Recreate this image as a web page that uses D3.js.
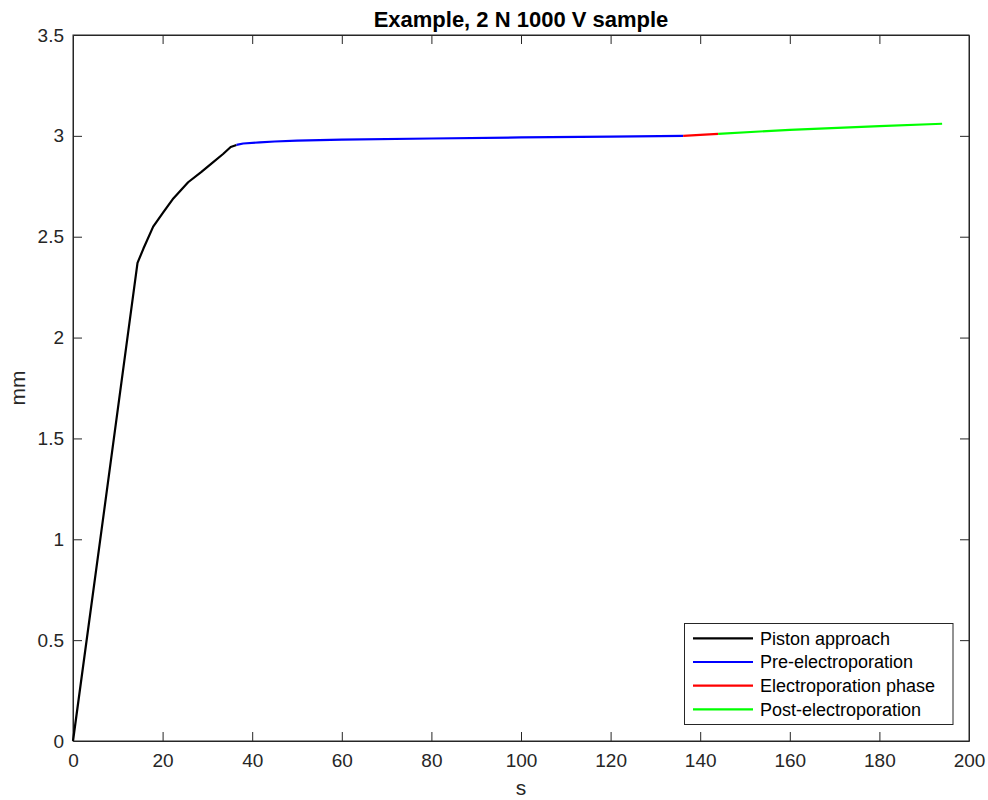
<!DOCTYPE html>
<html><head><meta charset="utf-8">
<script src="https://cdn.jsdelivr.net/npm/d3@7"></script>
<style>body{margin:0;background:#fff;} svg{display:block;}</style>
</head><body>
<script>
const approachT = [0, 7, 14.4, 15.7, 17.9, 20.1, 22.4, 25.7, 28.6, 31.3, 33.5, 35.2, 36.5];
const approachY = [0, 1.15, 2.37, 2.44, 2.55, 2.62, 2.69, 2.77, 2.82, 2.87, 2.91, 2.945, 2.955];
const preT = [36.5, 38, 41.7, 45, 50, 60, 80, 100, 120, 136.2];
const preY = [2.955, 2.962, 2.968, 2.972, 2.976, 2.981, 2.987, 2.992, 2.996, 3.0];
const electroT = [136.2, 140, 144];
const electroY = [3.0, 3.005, 3.01];
const postT = [144, 160, 180, 194];
const postY = [3.01, 3.03, 3.048, 3.06];
const seriesNames = ["Piston approach", "Pre-electroporation", "Electroporation phase", "Post-electroporation"];
const seriesColors = ["#000000", "#0000ff", "#ff0000", "#00ff00"];
const xTicks = [0,20,40,60,80,100,120,140,160,180,200];
const yTicks = [0,0.5,1,1.5,2,2.5,3,3.5];

const W = 988, H = 800;
const x = d3.scaleLinear().domain([0,200]).range([73, 969]);
const y = d3.scaleLinear().domain([0,3.5]).range([741, 35]);
const svg = d3.select("body").append("svg").attr("width", W).attr("height", H);
const font = "'Liberation Sans', Arial, Helvetica, sans-serif";
const axColor = "#262626";

svg.append("rect").attr("x", x(0)).attr("y", y(3.5)).attr("width", x(200)-x(0)).attr("height", y(0)-y(3.5))
  .attr("fill","#fff").attr("stroke", axColor).attr("stroke-width",1);

const tl = 9;
const gx = svg.append("g").attr("transform", `translate(0,${y(0)})`)
  .call(d3.axisBottom(x).tickValues(xTicks).tickSizeInner(-tl).tickSizeOuter(0).tickPadding(13).tickFormat(d3.format("d")));
const gxt = svg.append("g").attr("transform", `translate(0,${y(3.5)})`)
  .call(d3.axisTop(x).tickValues(xTicks).tickSizeInner(-tl).tickSizeOuter(0).tickFormat(""));
const gy = svg.append("g").attr("transform", `translate(${x(0)},0)`)
  .call(d3.axisLeft(y).tickValues(yTicks).tickSizeInner(-tl).tickSizeOuter(0).tickPadding(9).tickFormat(d => d3.format("")(d)));
const gyr = svg.append("g").attr("transform", `translate(${x(200)},0)`)
  .call(d3.axisRight(y).tickValues(yTicks).tickSizeInner(-tl).tickSizeOuter(0).tickFormat(""));
[gx,gxt,gy,gyr].forEach(g => {
  g.select(".domain").attr("stroke", axColor);
  g.selectAll(".tick line").attr("stroke", axColor);
  g.selectAll("text").attr("fill", axColor).style("font-family", font).style("font-size","19px");
});
[gx,gxt].forEach(g => g.selectAll(".tick").filter(d => d===0 || d===200).select("line").remove());
[gy,gyr].forEach(g => g.selectAll(".tick").filter(d => d===0 || d===3.5).select("line").remove());

const line = d3.line().x(d => x(d[0])).y(d => y(d[1]));
const series = [
  d3.zip(approachT, approachY), d3.zip(preT, preY), d3.zip(electroT, electroY), d3.zip(postT, postY)
];
series.forEach((s,i) => {
  svg.append("path").datum(s).attr("d", line).attr("fill","none")
    .attr("stroke", seriesColors[i]).attr("stroke-width", 2.2).attr("stroke-linejoin","round");
});

svg.append("text").attr("x", (x(0)+x(200))/2).attr("y", 26.5).attr("text-anchor","middle")
  .style("font-family", font).style("font-size","22px").style("font-weight","bold").attr("fill","#000")
  .text("Example, 2 N 1000 V sample");
svg.append("text").attr("x", (x(0)+x(200))/2).attr("y", 795).attr("text-anchor","middle")
  .style("font-family", font).style("font-size","21px").attr("fill", axColor).text("s");
svg.append("text").attr("transform", `translate(25,${(y(0)+y(3.5))/2}) rotate(-90)`).attr("text-anchor","middle")
  .style("font-family", font).style("font-size","21px").attr("fill", axColor).text("mm");

const lg = svg.append("g");
lg.append("rect").attr("x", 684.5).attr("y", 623.5).attr("width", 268.5).attr("height", 101)
  .attr("fill","#fff").attr("stroke", axColor).attr("stroke-width", 1);
seriesNames.forEach((n,i) => {
  const yy = 638.3 + i*23.7;
  lg.append("line").attr("x1", 693).attr("x2", 753).attr("y1", yy).attr("y2", yy)
    .attr("stroke", seriesColors[i]).attr("stroke-width", 2.2);
  lg.append("text").attr("x", 760).attr("y", yy).attr("dy","0.35em")
    .style("font-family", font).style("font-size","18px").attr("fill","#000").text(n);
});
</script>
</body></html>
